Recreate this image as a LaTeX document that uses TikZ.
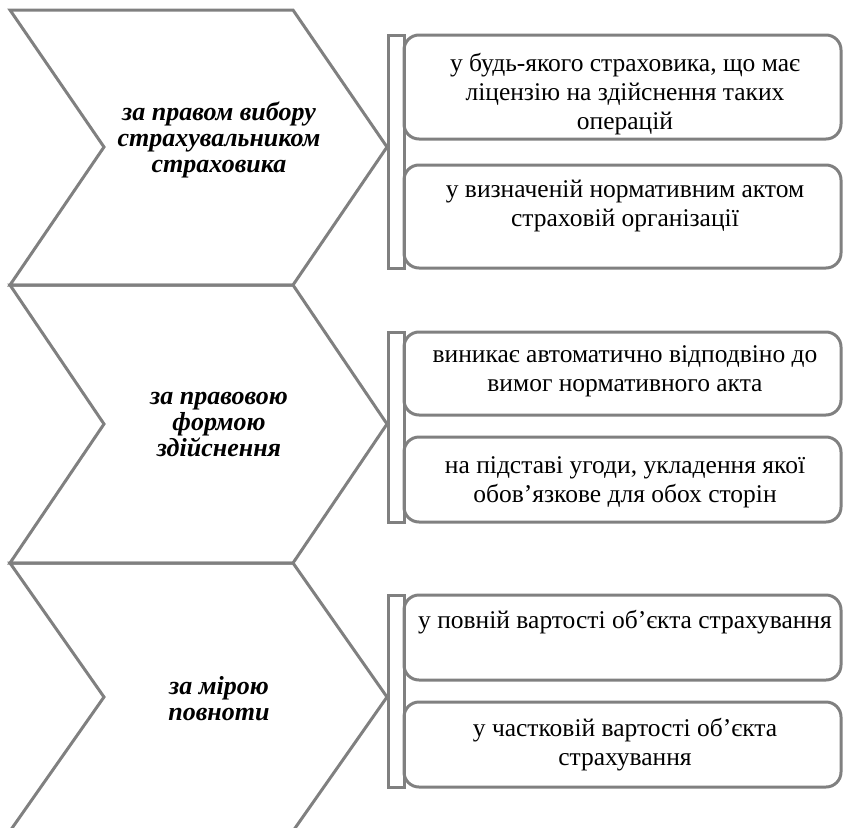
\documentclass[tikz,border=0pt]{standalone}
\usepackage{fontspec}
\setmainfont{Liberation Serif}
\begin{document}
\begin{tikzpicture}[x=1pt,y=-1pt,
  outline/.style={draw=black!50, line width=3pt, line join=miter},
  catlabel/.style={font=\fontsize{26}{26}\selectfont\bfseries\itshape, align=center, inner sep=0pt},
  itemtext/.style={font=\fontsize{25.5}{29}\selectfont, align=center, inner sep=0pt, anchor=north},
  itembox/.style={draw=black!50, line width=3pt, rounded corners=15pt},
  barbox/.style={draw=black!50, line width=3pt}]
\useasboundingbox (0,0) rectangle (843,827);

% chevrons: top y, tip y, bottom y
\foreach \t/\m/\b in {10/147/285, 285/424/563, 563/697/831}{
  \draw[outline] (10,\t) -- (293,\t) -- (387,\m) -- (293,\b) -- (10,\b) -- (104,\m) -- cycle;
}

\node[catlabel] (c1) at (219,140) {за правом вибору\\страхувальником\\страховика};
\node[catlabel] (c2) at (219,425) {за правовою\\формою\\здійснення};
\node[catlabel] (c3) at (219,699) {за мірою\\повноти};

% side bars
\draw[barbox] (388,35) rectangle (404,268);
\draw[barbox] (388,332) rectangle (404,522);
\draw[barbox] (388,595) rectangle (404,787);

% option boxes
\draw[itembox] (404,35) rectangle (841,139);
\draw[itembox] (404,165) rectangle (841,268);
\draw[itembox] (404,332) rectangle (841,415);
\draw[itembox] (404,437) rectangle (841,522);
\draw[itembox] (404,595) rectangle (841,680);
\draw[itembox] (404,702) rectangle (841,787);

\node[itemtext] (a1) at (625,53) {у будь-якого страховика, що має\\ліцензію на здійснення таких\\операцій};
\node[itemtext] (a2) at (625,180) {у визначеній нормативним актом\\страховій організації};
\node[itemtext] (b1) at (625,345) {виникає автоматично відподвіно до\\вимог нормативного акта};
\node[itemtext] (b2) at (625,456) {на підставі угоди, укладення якої\\обов’язкове для обох сторін};
\node[itemtext] (d1) at (625,610) {у повній вартості об’єкта страхування};
\node[itemtext] (d2) at (625,718) {у частковій вартості об’єкта\\страхування};
\end{tikzpicture}
\end{document}
